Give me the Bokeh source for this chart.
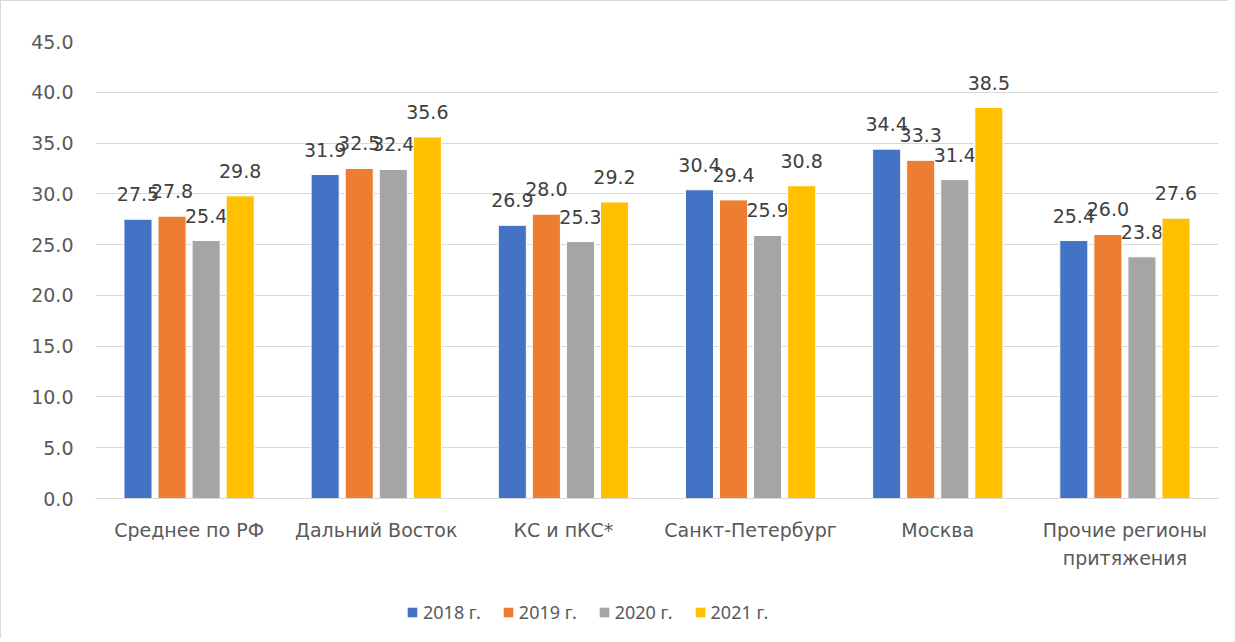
from bokeh.plotting import figure
from bokeh.layouts import column
from bokeh.models import ColumnDataSource, Legend, LegendItem, FactorRange, Range1d, SingleIntervalTicker, NumeralTickFormatter
from bokeh.transform import dodge
from bokeh.core.properties import value
from bokeh.embed import file_html
from bokeh.resources import INLINE

categories = ["Среднее по РФ", "Дальний Восток", "КС и пКС*", "Санкт-Петербург", "Москва", "Прочие регионы\nпритяжения"]
series_names = ["2018 г.", "2019 г.", "2020 г.", "2021 г."]
v2018 = [27.5, 31.9, 26.9, 30.4, 34.4, 25.4]
v2019 = [27.8, 32.5, 28.0, 29.4, 33.3, 26.0]
v2020 = [25.4, 32.4, 25.3, 25.9, 31.4, 23.8]
v2021 = [29.8, 35.6, 29.2, 30.8, 38.5, 27.6]
colors = ["#4472C4", "#ED7D31", "#A5A5A5", "#FFC000"]

FONT = "DejaVu Sans"
FS = "19px"
values = [v2018, v2019, v2020, v2021]

p = figure(x_range=FactorRange(*categories, range_padding=0), y_range=Range1d(0, 45),
           width=1227, height=577, output_backend="svg", toolbar_location=None,
           min_border_left=94, min_border_right=10, min_border_top=40, min_border_bottom=80)
p.x_range.factor_padding = 0

pitch = 0.182
width = 0.15
for i, (name, vals, c) in enumerate(zip(series_names, values, colors)):
    src = ColumnDataSource(dict(cat=categories, val=vals, lab=[f"{v:.1f}" for v in vals]))
    off = (i - 1.5) * pitch
    p.vbar(x=dodge("cat", off, range=p.x_range), top="val", width=width, source=src,
           fill_color=c, line_color="white", line_width=1)
    p.text(x=dodge("cat", off, range=p.x_range), y="val", text="lab", source=src,
           text_align="center", text_baseline="alphabetic", y_offset=-25,
           text_font=value(FONT), text_font_size=FS, text_color="#404040")

p.xgrid.grid_line_color = None
p.ygrid.grid_line_color = "#d9d9d9"
p.ygrid.grid_line_width = 1
p.yaxis.ticker = SingleIntervalTicker(interval=5)
p.yaxis.formatter = NumeralTickFormatter(format="0.0")
p.yaxis.axis_line_color = None
p.yaxis.major_tick_line_color = None
p.yaxis.minor_tick_line_color = None
p.yaxis.major_label_standoff = 16
p.yaxis.major_label_text_font = FONT
p.yaxis.major_label_text_font_size = FS
p.yaxis.major_label_text_color = "#595959"

p.xaxis.axis_line_color = "#d9d9d9"
p.xaxis.major_tick_line_color = None
p.xaxis.minor_tick_line_color = None
p.xaxis.major_label_standoff = 14
p.xaxis.major_label_text_font = FONT
p.xaxis.major_label_text_font_size = FS
p.xaxis.major_label_text_color = "#595959"
p.xaxis.major_label_text_line_height = 1.3
p.outline_line_color = None

# legend strip (proxy glyphs with no visible data)
lf = figure(width=1227, height=60, output_backend="svg", toolbar_location=None,
            x_axis_type=None, y_axis_type=None, min_border=0,
            x_range=Range1d(0, 1), y_range=Range1d(0, 1))
lf.outline_line_color = None
lf.grid.grid_line_color = None
items = []
nan = float("nan")
for name, c in zip(series_names, colors):
    r = lf.vbar(x=[nan], top=[nan], width=0.1, fill_color=c, line_color=None)
    items.append(LegendItem(label=name, renderers=[r]))
legend = Legend(items=items, orientation="horizontal", location=(311, 14),
                label_text_font="Noto Sans", label_text_font_size="18px", label_text_color="#595959",
                glyph_width=12, glyph_height=12, spacing=21, label_standoff=5,
                padding=2, margin=0,
                border_line_color=None, background_fill_alpha=0)
lf.add_layout(legend, "center")

layout = column(p, lf, spacing=0,
                styles={"border-left": "1px solid #d9d9d9", "border-top": "1px solid #d9d9d9"})

open("out.html", "w").write(file_html(layout, INLINE))
